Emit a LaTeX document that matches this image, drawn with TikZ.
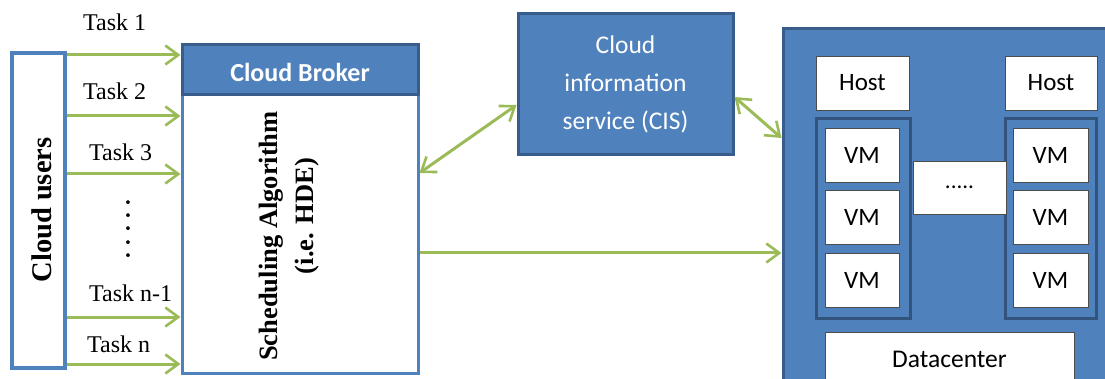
\documentclass[tikz,border=0pt]{standalone}
\usepackage{fontspec}
\setmainfont{Liberation Serif}
\newfontfamily\calfont{Carlito}
\usetikzlibrary{arrows.meta}
\definecolor{ablue}{HTML}{4F81BD}
\definecolor{dblue}{HTML}{385D8A}
\definecolor{agreen}{HTML}{9BBB59}
\tikzset{
  arr/.style={draw=agreen, line width=3pt, -{Straight Barb[length=13pt,width=19pt,line width=2.6pt]}},
  darr/.style={draw=agreen, line width=3pt, {Straight Barb[length=13pt,width=19pt,line width=2.6pt]}-{Straight Barb[length=13pt,width=19pt,line width=2.6pt]}},
  tasklbl/.style={font=\fontsize{24}{28}\selectfont, anchor=base west, inner sep=0pt},
  whitebox/.style={draw=black!70, line width=0.8pt, fill=white, inner sep=0pt, font=\calfont\fontsize{25}{30}\selectfont},
  bluebox/.style={draw=dblue, line width=3pt, fill=ablue},
}
\begin{document}
\begin{tikzpicture}[x=1pt,y=-1pt]
\useasboundingbox (0,0) rectangle (1105,379);
\clip (0,0) rectangle (1105,379);
\fill[white] (0,0) rectangle (1105,379);

% Cloud users
\node[draw=ablue, line width=3.5pt, fill=white, minimum width=53pt, minimum height=315pt, inner sep=0pt] (users) at (38.5,210.5) {};
\node[rotate=90, inner sep=0pt, font=\bfseries\fontsize{28.5}{32}\selectfont] (userslbl) at (42,210) {Cloud users};

% Broker
\node[draw=ablue, line width=3pt, fill=white, minimum width=236pt, minimum height=328pt, inner sep=0pt] (broker) at (300,209) {};
\node[bluebox, minimum width=236pt, minimum height=50pt, inner sep=0pt] (brokerhead) at (300,70) {};
\node[anchor=base, inner sep=0pt, text=white, font=\calfont\bfseries\fontsize{26}{30}\selectfont] (brokerlbl) at (300,82) {Cloud Broker};
\node[rotate=90, anchor=base, inner sep=0pt, font=\bfseries\fontsize{26.5}{30}\selectfont] (sched) at (277,236) {Scheduling Algorithm};
\node[rotate=90, anchor=base, inner sep=0pt, font=\bfseries\fontsize{26.5}{30}\selectfont] (hde) at (313,216) {(i.e. HDE)};

% Tasks
\node[tasklbl] (t1) at (83,31) {Task 1};
\node[tasklbl] (t2) at (83,100) {Task 2};
\node[tasklbl] (t3) at (89,161) {Task 3};
\node[tasklbl] (tn1) at (89,301) {Task n-1};
\node[tasklbl] (tn) at (87,352) {Task n};
\node[rotate=90, inner sep=0pt, font=\bfseries\fontsize{23}{28}\selectfont] (vdots) at (128,229) {. . . . .};

\foreach \yy in {55,116,174,317,364} {
  \draw[arr] (users.east |- 0,\yy) -- (broker.west |- 0,\yy);
}

% CIS
\node[bluebox, minimum width=215pt, minimum height=141pt, inner sep=0pt, text=white, align=center, font=\calfont\fontsize{25.5}{38}\selectfont] (cis) at (625.5,84.5) {Cloud\\information\\service (CIS)};

% Datacenter
\node[bluebox, minimum width=340pt, minimum height=370pt, inner sep=0pt] (dc) at (953,214) {};
\node[whitebox, minimum width=93pt, minimum height=54pt] (host1) at (862.5,83) {Host};
\node[whitebox, minimum width=92pt, minimum height=54pt] (host2) at (1051,83) {Host};
\node[draw=dblue!90!black, line width=3pt, fill=ablue, minimum width=94pt, minimum height=199pt, inner sep=0pt] (grp1) at (863,218.5) {};
\node[draw=dblue!90!black, line width=3pt, fill=ablue, minimum width=91pt, minimum height=199pt, inner sep=0pt] (grp2) at (1050.5,218.5) {};
\node[whitebox, minimum width=74pt, minimum height=54pt] (vm11) at (862,155) {VM};
\node[whitebox, minimum width=74pt, minimum height=54pt] (vm12) at (862,217) {VM};
\node[whitebox, minimum width=74pt, minimum height=54pt] (vm13) at (862,280) {VM};
\node[whitebox, minimum width=75pt, minimum height=54pt] (vm21) at (1050.5,155) {VM};
\node[whitebox, minimum width=75pt, minimum height=54pt] (vm22) at (1050.5,217) {VM};
\node[whitebox, minimum width=75pt, minimum height=54pt] (vm23) at (1050.5,280) {VM};
\node[whitebox, minimum width=93pt, minimum height=53pt, font=\calfont\fontsize{23}{28}\selectfont] (dots) at (959.5,187.5) {.....};
\node[whitebox, minimum width=249pt, minimum height=70pt] (dcbox) at (949.5,367) {};
\node[anchor=base, inner sep=0pt, font=\calfont\fontsize{25.5}{30}\selectfont] (dclbl) at (949.5,367) {Datacenter};

% Connectors
\draw[darr] (broker.east |- 0,173) -- (cis.west |- 0,105);
\draw[darr] (cis.east |- 0,97) -- (dc.west |- 0,138);
\draw[arr] (broker.east |- 0,253) -- (dc.west |- 0,253);
\end{tikzpicture}
\end{document}
